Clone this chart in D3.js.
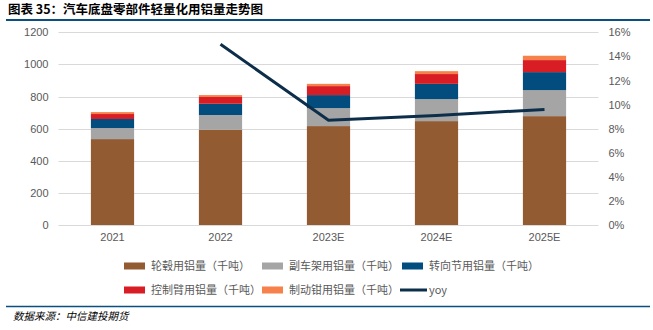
<!DOCTYPE html>
<html><head><meta charset="utf-8">
<script src="https://cdn.jsdelivr.net/npm/d3@7"></script>
<style>body{margin:0;background:#fff}svg{display:block;font-family:"Noto Sans CJK SC","Noto Sans",sans-serif}</style>
</head><body><svg id="c" width="653" height="330"></svg>
<script>
const categories = ["2021","2022","2023E","2024E","2025E"];
const seriesNames = ["轮毂用铝量（千吨）","副车架用铝量（千吨）","转向节用铝量（千吨）","控制臂用铝量（千吨）","制动钳用铝量（千吨）"];
const wheel   = [535, 593, 616, 647, 678];
const subframe= [69, 92, 112, 137, 162];
const knuckle = [56, 70, 81, 95, 112];
const arm     = [31, 42, 56, 61, 75];
const caliper = [12, 12, 14, 18, 27];
const yoy = [null, 15.0, 8.7, 9.1, 9.6];
const leftTicks = [0,200,400,600,800,1000,1200];
const rightTicks = [0,2,4,6,8,10,12,14,16];
const colors = ["#935B32","#A5A5A5","#034C7E","#D91D25","#F7814A"];
const lineColor = "#0D2E4A";

const svg = d3.select("#c");
const m={l:58.5,r:598.5,t:32.3,b:225};
const x=d3.scaleBand().domain(categories).range([m.l,m.r]).paddingInner(0.6).paddingOuter(0.3);
const y=d3.scaleLinear().domain([0,1200]).range([m.b,m.t]);
const y2=d3.scaleLinear().domain([0,16]).range([m.b,m.t]);

// title
svg.append("text").attr("x",8).attr("y",13.5).attr("font-size",12.5).attr("font-weight","bold").attr("fill","#000").text("图表 35：汽车底盘零部件轻量化用铝量走势图");
svg.append("line").attr("x1",6).attr("x2",650).attr("y1",20).attr("y2",20).attr("stroke","#0B4F80").attr("stroke-width",2);

// grid
svg.append("g").selectAll("line").data(leftTicks).join("line")
  .attr("x1",m.l).attr("x2",m.r).attr("y1",d=>Math.round(y(d))+0.5).attr("y2",d=>Math.round(y(d))+0.5)
  .attr("stroke","#D9D9D9").attr("stroke-width",1);

const axFont="'Liberation Sans',Arial,sans-serif";
const ga=svg.append("g").attr("transform",`translate(${m.l-8},0)`).call(d3.axisLeft(y).tickValues(leftTicks).tickFormat(d3.format("d")).tickSize(0).tickPadding(2));
ga.select(".domain").remove();
ga.selectAll("text").attr("font-size",11).attr("fill","#595959").attr("font-family",axFont);
const gb=svg.append("g").attr("transform",`translate(${m.r+8},0)`).call(d3.axisRight(y2).tickValues(rightTicks).tickFormat(d=>d+"%").tickSize(0).tickPadding(2));
gb.select(".domain").remove();
gb.selectAll("text").attr("font-size",11).attr("fill","#595959").attr("font-family",axFont);
const gx=svg.append("g").attr("transform",`translate(0,${m.b+6})`).call(d3.axisBottom(x).tickSize(0).tickPadding(2));
gx.select(".domain").remove();
gx.selectAll("text").attr("font-size",11).attr("fill","#595959").attr("font-family",axFont);

// stacked bars
const rows=categories.map((c,i)=>({cat:c,s0:wheel[i],s1:subframe[i],s2:knuckle[i],s3:arm[i],s4:caliper[i]}));
const stack=d3.stack().keys(["s0","s1","s2","s3","s4"])(rows);
svg.append("g").selectAll("g").data(stack).join("g").attr("fill",(d,i)=>colors[i])
  .selectAll("rect").data(d=>d).join("rect")
  .attr("x",d=>x(d.data.cat)).attr("width",x.bandwidth())
  .attr("y",d=>y(d[1])).attr("height",d=>y(d[0])-y(d[1]));

// yoy line
const pts=categories.map((c,i)=>({c,v:yoy[i]})).filter(d=>d.v!=null);
svg.append("path").datum(pts).attr("fill","none").attr("stroke",lineColor).attr("stroke-width",3)
  .attr("d",d3.line().x(d=>x(d.c)+x.bandwidth()/2).y(d=>y2(d.v)));

// legend
const leg=[
  {t:seriesNames[0],c:colors[0],x:124,y:266},
  {t:seriesNames[1],c:colors[1],x:262,y:266},
  {t:seriesNames[2],c:colors[2],x:402,y:266},
  {t:seriesNames[3],c:colors[3],x:124,y:290},
  {t:seriesNames[4],c:colors[4],x:262,y:290},
  {t:"yoy",c:lineColor,x:400,y:290,line:true}
];
const lg=svg.append("g").selectAll("g").data(leg).join("g");
lg.filter(d=>!d.line).append("rect").attr("x",d=>d.x).attr("y",d=>d.y-3.5).attr("width",21).attr("height",7).attr("fill",d=>d.c);
lg.filter(d=>d.line).append("line").attr("x1",d=>d.x).attr("x2",d=>d.x+27).attr("y1",d=>d.y).attr("y2",d=>d.y).attr("stroke",d=>d.c).attr("stroke-width",3);
lg.append("text").attr("x",d=>d.x+(d.line?29:27)).attr("y",d=>d.y+4).attr("font-size",11).attr("fill","#595959").text(d=>d.t);

// footer
svg.append("line").attr("x1",6).attr("x2",650).attr("y1",306.5).attr("y2",306.5).attr("stroke","#0B4F80").attr("stroke-width",1.5);
svg.append("text").attr("x",13).attr("y",320).attr("font-size",10.5).attr("font-style","italic").attr("fill","#000").text("数据来源：中信建投期货");
</script></body></html>
